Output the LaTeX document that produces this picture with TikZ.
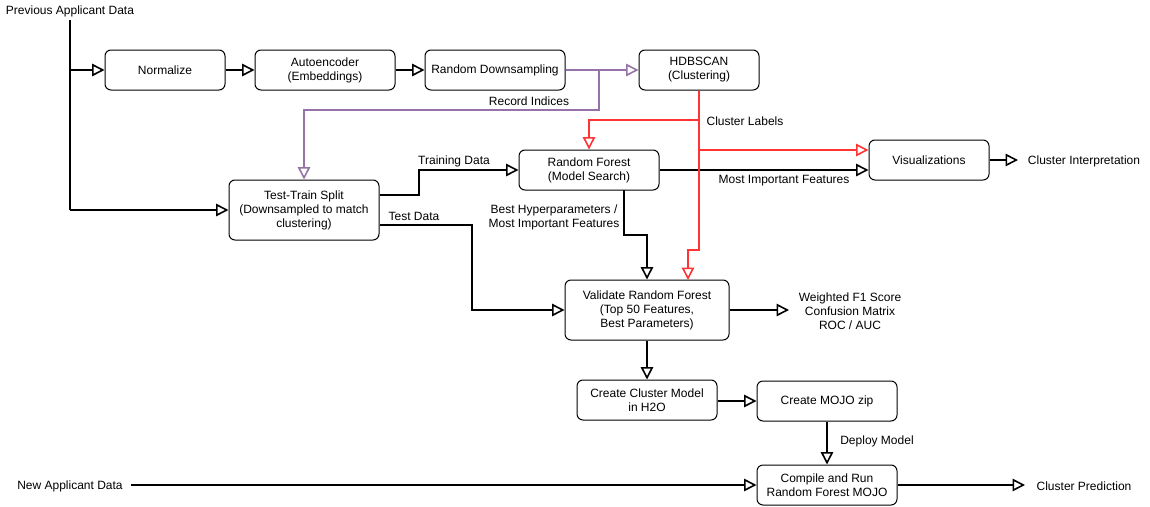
\documentclass[tikz,border=0pt]{standalone}
\usepackage{fontspec}
\setmainfont{Liberation Sans}
\usetikzlibrary{arrows.meta}
\definecolor{purp}{HTML}{9673A6}
\definecolor{redl}{HTML}{FF3333}
\begin{document}
\begin{tikzpicture}[x=1pt,y=-1pt,
  every node/.style={font=\fontsize{12}{14}\selectfont, align=center, inner sep=0pt},
  box/.style={draw, line width=1pt, rounded corners=6pt, minimum width=#1, minimum height=40pt},
  box/.default=140pt,
  conn/.style={line width=1.8pt, -{Triangle[open,length=12.5pt,width=12.5pt,line width=1.6pt]}},
  plain/.style={line width=1.8pt}]
\useasboundingbox[fill=white] (0,0) rectangle (1150,506);
% nodes
\node[box=120pt] (norm) at (165,70) {Normalize};
\node[box] (auto) at (325,70) {Autoencoder\\(Embeddings)};
\node[box] (rd) at (495,70) {Random Downsampling};
\node[box=120pt] (hdb) at (699,70) {HDBSCAN\\(Clustering)};
\node[box=150pt, minimum height=60pt] (tts) at (304,210) {Test-Train Split\\(Downsampled to match\\clustering)};
\node[box] (rf) at (589,170) {Random Forest\\(Model Search)};
\node[box=120pt] (vis) at (929,160) {Visualizations};
\node[box=164pt, minimum height=60pt] (val) at (647,310) {Validate Random Forest\\(Top 50 Features,\\Best Parameters)};
\node[box] (ccm) at (647,400) {Create Cluster Model\\in H2O};
\node[box] (mojo) at (827,401) {Create MOJO zip};
\node[box] (run) at (827,485) {Compile and Run\\Random Forest MOJO};
% free text
\node (prev) at (70,11) {Previous Applicant Data};
\node (new) at (70,486) {New Applicant Data};
\node (ci) at (1084,161) {Cluster Interpretation};
\node (metrics) at (850,311) {Weighted F1 Score\\Confusion Matrix\\ROC / AUC};
\node (cp) at (1084,486) {Cluster Prediction};
\node at (529,101) {Record Indices};
\node at (745,121) {Cluster Labels};
\node at (454,161) {Training Data};
\node at (414,216) {Test Data};
\node at (784,181) {Most Important Features};
\node at (554,217) {Best Hyperparameters /\\Most Important Features};
\node at (877,441) {Deploy Model};
% coordinates
\coordinate (p0) at (70,20);
\coordinate (pv) at (70,70);
\coordinate (vd) at (789,310);
\coordinate (ciE) at (1018,160);
\coordinate (cpE) at (1025,485);
\coordinate (newS) at (131,485);
% black connectors
\draw[plain] (p0) -- (70,210);
\draw[conn] (70,210) -- (tts.west);
\draw[conn] (pv) -- (norm.west);
\draw[conn] (norm) -- (auto);
\draw[conn] (auto) -- (rd);
\draw[conn] (tts.east |- 0,195) -- (419,195) -- (419,170) -- (rf.west);
\draw[conn] (tts.east |- 0,225) -- (472,225) -- (472,310) -- (val.west);
\draw[conn] (rf.east) -- (vis.west |- rf.east);
\draw[conn] (624,190) -- (624,235) -- (647,235) -- (val.north);
\draw[conn] (vis.east) -- (ciE);
\draw[conn] (val.east) -- (vd);
\draw[conn] (val.south) -- (ccm.north);
\draw[conn] (ccm.east |- mojo.west) -- (mojo.west);
\draw[conn] (mojo.south) -- (run.north);
\draw[conn] (newS) -- (run.west);
\draw[conn] (run.east) -- (cpE);
% purple
\draw[conn, draw=purp] (rd.east) -- (hdb.west);
\draw[conn, draw=purp] (599,70) -- (599,110) -- (304,110) -- (tts.north);
% red
\draw[conn, draw=redl] (hdb.south) -- (699,250) -- (688,250) -- (688,280);
\draw[conn, draw=redl] (699,120) -- (589,120) -- (rf.north);
\draw[conn, draw=redl] (699,150) -- (vis.west |- 0,150);
\end{tikzpicture}
\end{document}
